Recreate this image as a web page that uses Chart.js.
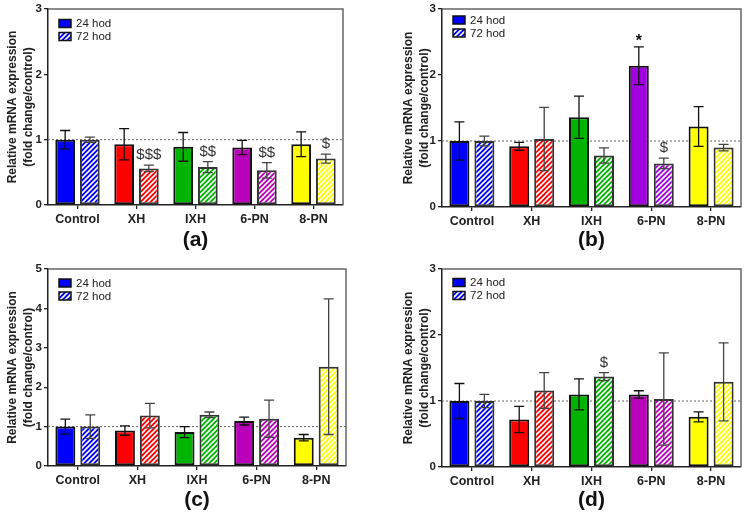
<!DOCTYPE html>
<html>
<head>
<meta charset="utf-8">
<script src="https://cdn.jsdelivr.net/npm/chart.js@4.4.1/dist/chart.umd.min.js"></script>
<style>
    body { margin: 0; background: #fff; }
    #grid { position: relative; width: 753px; height: 520px; }
    canvas { position: absolute; }
</style>
</head>
<body>
<div id="grid">
    <canvas id="a" width="376" height="260" style="left:0;top:0"></canvas>
    <canvas id="b" width="377" height="260" style="left:376px;top:0"></canvas>
    <canvas id="c" width="376" height="260" style="left:0;top:260px"></canvas>
    <canvas id="d" width="377" height="260" style="left:376px;top:260px"></canvas>
</div>
<script>
const categories = ["Control", "XH", "IXH", "6-PN", "8-PN"];
const seriesLabels = ["24 hod", "72 hod"];
const yTicks3 = [0, 1, 2, 3];
const yTicks5 = [0, 1, 2, 3, 4, 5];

// (a)
const a24 = [1.00, 0.93, 0.89, 0.88, 0.93];
const a24err = [0.14, 0.24, 0.22, 0.11, 0.19];
const a72 = [1.00, 0.56, 0.58, 0.53, 0.71];
const a72err = [0.04, 0.05, 0.085, 0.12, 0.07];
const a72marks = ["", "$$$", "$$", "$$", "$"];

// (b)
const b24 = [1.00, 0.92, 1.36, 2.14, 1.22];
const b24err = [0.29, 0.06, 0.32, 0.285, 0.30];
const b72 = [1.00, 1.03, 0.78, 0.66, 0.90];
const b72err = [0.075, 0.48, 0.115, 0.08, 0.05];
const b24marks = ["", "", "", "*", ""];
const b72marks = ["", "", "", "$", ""];

// (c)
const c24 = [1.00, 0.90, 0.86, 1.14, 0.72];
const c24err = [0.19, 0.12, 0.14, 0.10, 0.08];
const c72 = [1.00, 1.28, 1.30, 1.20, 2.52];
const c72err = [0.30, 0.31, 0.07, 0.47, 1.72];

// (d)
const d24 = [1.00, 0.72, 1.10, 1.10, 0.76];
const d24err = [0.265, 0.20, 0.235, 0.055, 0.075];
const d72 = [1.00, 1.16, 1.37, 1.03, 1.29];
const d72err = [0.10, 0.27, 0.06, 0.70, 0.59];
const d72marks = ["", "", "$", "", ""];

const colorsMagenta = ["#0000ff", "#ff0000", "#00b400", "#bb00bb", "#ffff00"];
const colorsViolet = ["#0000ff", "#ff0000", "#00b400", "#a000e0", "#ffff00"];

const FONT = "Arial, 'Liberation Sans', sans-serif";

function hatch(color) {
    const s = 5;
    const c = document.createElement("canvas");
    c.width = s;
    c.height = s;
    const g = c.getContext("2d");
    g.fillStyle = color;
    g.fillRect(0, 0, s, s);
    g.strokeStyle = "#fff";
    g.lineWidth = 1.6;
    g.beginPath();
    g.moveTo(0, s); g.lineTo(s, 0);
    g.moveTo(-s / 2, s / 2); g.lineTo(s / 2, -s / 2);
    g.moveTo(s / 2, s * 1.5); g.lineTo(s * 1.5, s / 2);
    g.stroke();
    return g.createPattern(c, "repeat");
}

const decor = {
    id: "decor",
    beforeDatasetsDraw(chart) {
        const ctx = chart.ctx, area = chart.chartArea;
        const y = chart.scales.y.getPixelForValue(1);
        ctx.save();
        ctx.strokeStyle = "#666";
        ctx.lineWidth = 1;
        ctx.setLineDash([2, 2]);
        ctx.beginPath();
        ctx.moveTo(area.left, y);
        ctx.lineTo(area.right, y);
        ctx.stroke();
        ctx.restore();
    },
    afterDatasetsDraw(chart) {
        const ctx = chart.ctx, area = chart.chartArea, ys = chart.scales.y;
        ctx.save();
        chart.data.datasets.forEach((ds, di) => {
            const meta = chart.getDatasetMeta(di);
            meta.data.forEach((bar, i) => {
                const v = ds.data[i], e = ds.errors[i];
                const top = ys.getPixelForValue(v + e);
                const bot = ys.getPixelForValue(v - e);
                ctx.strokeStyle = di === 0 ? "#111" : "#444";
                ctx.lineWidth = 1.3;
                ctx.beginPath();
                ctx.moveTo(bar.x, top); ctx.lineTo(bar.x, bot);
                ctx.moveTo(bar.x - 5, top); ctx.lineTo(bar.x + 5, top);
                ctx.moveTo(bar.x - 5, bot); ctx.lineTo(bar.x + 5, bot);
                ctx.stroke();
                const m = ds.marks ? ds.marks[i] : "";
                if (m) {
                    ctx.textAlign = "center";
                    ctx.textBaseline = "middle";
                    if (m === "*") {
                        ctx.fillStyle = "#111";
                        ctx.font = "bold 16px " + FONT;
                        ctx.fillText(m, bar.x, top - 5);
                    } else {
                        ctx.fillStyle = "#333";
                        ctx.font = "15px " + FONT;
                        ctx.fillText(m, bar.x, top - 10);
                    }
                }
            });
        });

        // top and right frame
        ctx.strokeStyle = "#666";
        ctx.lineWidth = 1.5;
        ctx.setLineDash([]);
        ctx.beginPath();
        ctx.moveTo(area.left, area.top);
        ctx.lineTo(area.right, area.top);
        ctx.lineTo(area.right, area.bottom);
        ctx.stroke();

        // legend
        const lt = chart.options.plugins.decor.legendTop;
        chart.data.datasets.forEach((ds, di) => {
            const x = area.left + 11;
            const y = area.top + lt + di * 13;
            ctx.fillStyle = ds.backgroundColor[0];
            ctx.fillRect(x, y, 12, 8);
            ctx.strokeStyle = "#111";
            ctx.lineWidth = 1.5;
            ctx.strokeRect(x, y, 12, 8);
            ctx.fillStyle = "#222";
            ctx.font = "11.5px " + FONT;
            ctx.textAlign = "left";
            ctx.textBaseline = "middle";
            ctx.fillText(ds.label, x + 17, y + 4.5);
        });
        ctx.restore();
    }
};

function makeChart(id, d24, e24, d72, e72, m24, m72, colors, yTicks, pad, yWidth, xHeight, legendTop) {
    new Chart(document.getElementById(id), {
        type: "bar",
        data: {
            labels: categories,
            datasets: [{
                label: seriesLabels[0],
                data: d24,
                errors: e24,
                marks: m24,
                backgroundColor: colors,
                borderColor: "#111",
                borderWidth: 2,
                borderSkipped: false
            }, {
                label: seriesLabels[1],
                data: d72,
                errors: e72,
                marks: m72,
                backgroundColor: colors.map(hatch),
                borderColor: "#333",
                borderWidth: 2,
                borderSkipped: false
            }]
        },
        options: {
            responsive: false,
            animation: false,
            devicePixelRatio: 1,
            categoryPercentage: 0.836,
            barPercentage: 0.8,
            layout: { padding: pad },
            plugins: {
                legend: { display: false },
                tooltip: { enabled: false },
                decor: { legendTop: legendTop }
            },
            scales: {
                x: {
                    grid: { offset: false, drawOnChartArea: false, tickLength: 4, color: "#222", lineWidth: 1.3 },
                    border: { color: "#222", width: 1.5 },
                    ticks: { color: "#222", padding: 3, font: { family: FONT, size: 12.5, weight: "bold" } },
                    title: {
                        display: true,
                        text: "(" + id + ")",
                        color: "#111",
                        font: { family: FONT, size: 21, weight: "bold", lineHeight: 1.2 },
                        padding: { top: 0, bottom: 7 }
                    },
                    afterFit(scale) { scale.height = xHeight; }
                },
                y: {
                    min: yTicks[0],
                    max: yTicks[yTicks.length - 1],
                    grid: { drawOnChartArea: false, tickLength: 4, color: "#222", lineWidth: 1.3 },
                    border: { color: "#222", width: 1.5 },
                    ticks: { stepSize: 1, color: "#222", padding: 2, font: { family: FONT, size: 11.5, weight: "bold" } },
                    title: {
                        display: true,
                        text: ["Relative mRNA expression", "(fold change/control)"],
                        color: "#222",
                        font: { family: FONT, size: 12, weight: "bold", lineHeight: 1.3 },
                        padding: { top: 5, bottom: 0 }
                    },
                    afterFit(scale) { scale.width = yWidth; }
                }
            }
        },
        plugins: [decor]
    });
}

document.addEventListener("DOMContentLoaded", function() {
    makeChart("a", a24, a24err, a72, a72err, null, a72marks, colorsMagenta, yTicks3,
        { left: 0, right: 33, top: 9, bottom: 0 }, 48, 55, 10.5);
    makeChart("b", b24, b24err, b72, b72err, b24marks, b72marks, colorsViolet, yTicks3,
        { left: 20, right: 12, top: 9, bottom: 0 }, 46, 53, 7);
    makeChart("c", c24, c24err, c72, c72err, null, null, colorsMagenta, yTicks5,
        { left: 0, right: 30, top: 9, bottom: 0 }, 48, 54, 10);
    makeChart("d", d24, d24err, d72, d72err, null, d72marks, colorsMagenta, yTicks3,
        { left: 20, right: 12, top: 9, bottom: 0 }, 46, 53, 9.5);
});
</script>
</body>
</html>
